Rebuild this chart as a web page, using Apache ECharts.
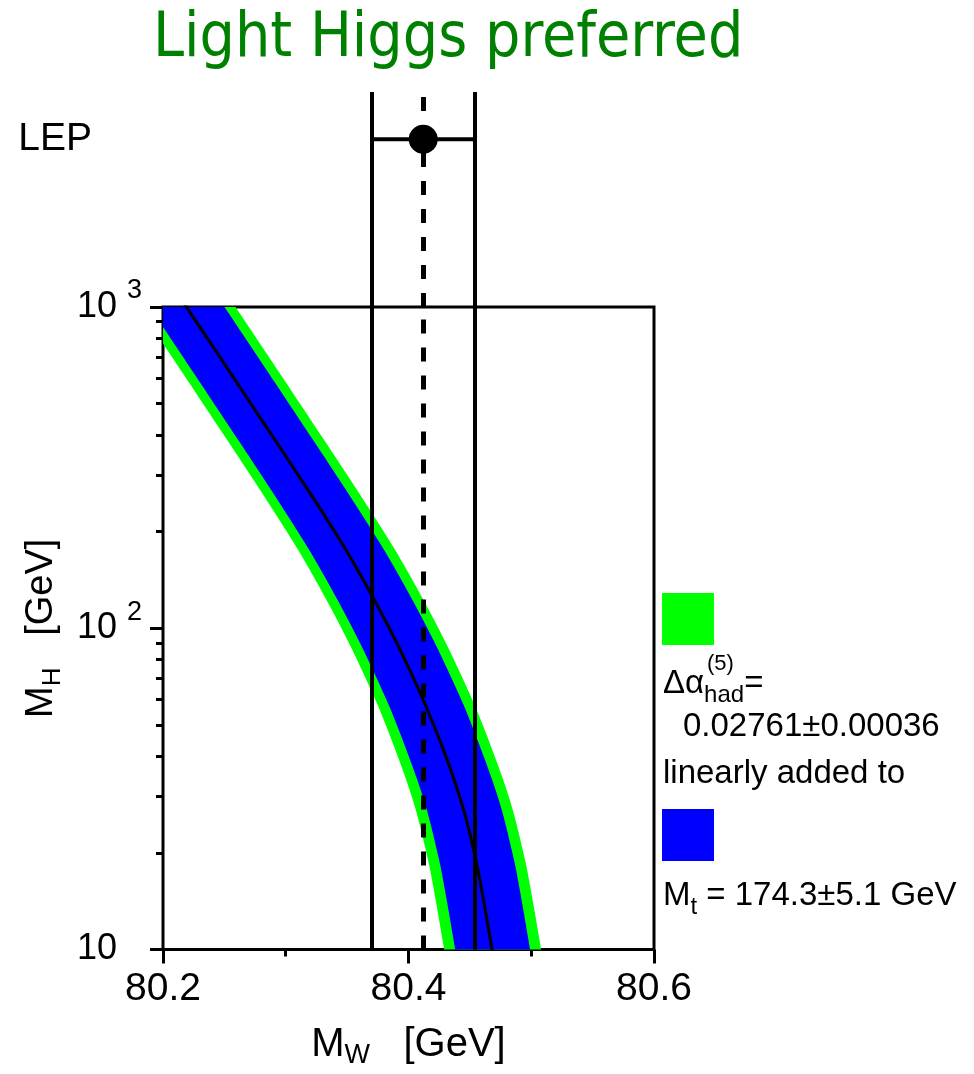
<!DOCTYPE html>
<html>
<head>
<meta charset="utf-8">
<script src="https://cdn.jsdelivr.net/npm/echarts@6/dist/echarts.min.js"></script>
<style>
  html, body { margin: 0; padding: 0; background: #fff; }
  #chart { width: 974px; height: 1074px; }
</style>
</head>
<body>
<div id="chart"></div>
<script>
// Higgs mass samples (GeV) along the band; first and last lie just outside the axis and get clipped
const mhSamples = [8, 10, 15, 20, 30, 50, 70, 100, 150, 200, 300, 500, 700, 1000, 1300];
// SM prediction for M_W (GeV) at each M_H
const mwCenter  = [80.4721, 80.4680, 80.4601, 80.4536, 80.4416, 80.4205, 80.4040, 80.3844, 80.3594, 80.3398, 80.3101, 80.2716, 80.2462, 80.2191, 80.1993];
// blue band: M_t uncertainty
const blueLow   = [80.4421, 80.4380, 80.4301, 80.4236, 80.4116, 80.3905, 80.3740, 80.3544, 80.3294, 80.3098, 80.2801, 80.2416, 80.2162, 80.1891, 80.1693];
const blueHigh  = [80.5031, 80.4990, 80.4911, 80.4846, 80.4726, 80.4515, 80.4350, 80.4154, 80.3904, 80.3708, 80.3411, 80.3026, 80.2772, 80.2501, 80.2303];
// green band: delta alpha linearly added
const greenLow  = [80.4331, 80.4290, 80.4211, 80.4146, 80.4026, 80.3815, 80.3650, 80.3454, 80.3204, 80.3008, 80.2711, 80.2326, 80.2072, 80.1801, 80.1603];
const greenHigh = [80.5121, 80.5080, 80.5001, 80.4936, 80.4816, 80.4605, 80.4440, 80.4244, 80.3994, 80.3798, 80.3501, 80.3116, 80.2862, 80.2591, 80.2393];

// LEP measurement of M_W
const lepMW = 80.412;
const lepLow = 80.370;
const lepHigh = 80.454;
const lepRow = 0.78;

// minor log ticks on the M_H axis
const yMinorTicks = [20, 30, 40, 50, 60, 70, 80, 90, 200, 300, 400, 500, 600, 700, 800, 900];

const FONT = "'Liberation Sans', Arial, sans-serif";
const chart = echarts.init(document.getElementById('chart'), null, { renderer: 'canvas' });

// catmull-rom through the projected edge points, so the band edges are smooth
function smoothPts(pts, steps) {
  const out = [];
  for (let i = 0; i < pts.length - 1; i++) {
    const p0 = pts[i - 1] || pts[i], p1 = pts[i], p2 = pts[i + 1], p3 = pts[i + 2] || pts[i + 1];
    for (let s = 0; s < steps; s++) {
      const t = s / steps, t2 = t * t, t3 = t2 * t;
      const f = k => 0.5 * ((2 * p1[k]) + (-p0[k] + p2[k]) * t +
        (2 * p0[k] - 5 * p1[k] + 4 * p2[k] - p3[k]) * t2 + (-p0[k] + 3 * p1[k] - 3 * p2[k] + p3[k]) * t3);
      out.push([f(0), f(1)]);
    }
  }
  out.push(pts[pts.length - 1]);
  return out;
}

function bandItem(low, high, color) {
  return function (params, api) {
    const lo = mhSamples.map((mh, i) => api.coord([low[i], mh]));
    const hi = mhSamples.map((mh, i) => api.coord([high[i], mh])).reverse();
    const pts = smoothPts(lo, 12).concat(smoothPts(hi, 12));
    return { type: 'polygon', shape: { points: pts }, style: { fill: color } };
  };
}

const vLines = [
  { xAxis: lepLow },
  { xAxis: lepHigh },
  { xAxis: lepMW, lineStyle: { type: [14, 14], width: 5 } }
];
const markLineBase = {
  silent: true,
  precision: 4,
  symbol: ['none', 'none'],
  label: { show: false },
  lineStyle: { color: '#000', width: 4, type: 'solid' },
  data: vLines
};

const option = {
  animation: false,
  title: {
    text: 'Light Higgs preferred',
    left: 148,
    top: 4,
    textStyle: { color: '#008000', fontSize: 62, fontWeight: 'normal', fontFamily: "'DejaVu Sans Condensed', 'DejaVu Sans', sans-serif" }
  },
  legend: [
    { data: ['dalpha'], left: 662, top: 593, padding: 0, icon: 'rect', itemWidth: 52, itemHeight: 52, formatter: () => '', selectedMode: false },
    { data: ['mtop'], left: 662, top: 809, padding: 0, icon: 'rect', itemWidth: 52, itemHeight: 52, formatter: () => '', selectedMode: false }
  ],
  grid: [
    { left: 163, top: 307, width: 491, height: 646, show: true, borderColor: '#000', borderWidth: 3, backgroundColor: 'transparent' },
    { left: 163, top: 92, width: 491, height: 215, show: false }
  ],
  xAxis: [
    {
      gridIndex: 0, type: 'value', position: 'bottom', min: 80.2, max: 80.6, interval: 0.2,
      name: '{m|M}{s|W}{m|   [GeV]}', nameLocation: 'middle', nameGap: 73,
      nameTextStyle: { rich: {
        m: { fontSize: 40, fontFamily: FONT, color: '#000', lineHeight: 44 },
        s: { fontSize: 27, fontFamily: FONT, color: '#000', lineHeight: 27, padding: [22, 0, 0, 0] }
      } },
      axisLine: { show: false },
      axisTick: { show: true, inside: false, length: 14, lineStyle: { color: '#000', width: 3 } },
      axisLabel: { fontSize: 39, fontFamily: FONT, color: '#000', margin: 20, formatter: v => v.toFixed(1) },
      splitLine: { show: false }
    },
    {
      gridIndex: 0, type: 'value', position: 'bottom', min: 80.2, max: 80.6, interval: 0.1,
      axisLine: { show: false },
      axisTick: { show: true, length: 7, lineStyle: { color: '#000', width: 3 } },
      axisLabel: { show: false },
      splitLine: { show: false }
    },
    { gridIndex: 1, type: 'value', min: 80.2, max: 80.6, show: false }
  ],
  yAxis: [
    {
      gridIndex: 0, type: 'log', logBase: 10, min: 10, max: 1000, position: 'left',
      name: '{m|M}{s|H}{m|   [GeV]}', nameLocation: 'middle', nameGap: 100, nameRotate: 90,
      nameTextStyle: { rich: {
        m: { fontSize: 38, fontFamily: FONT, color: '#000', lineHeight: 42 },
        s: { fontSize: 26, fontFamily: FONT, color: '#000', lineHeight: 26, padding: [22, 0, 0, 0] }
      } },
      axisLine: { show: false },
      axisTick: { show: true, length: 13, lineStyle: { color: '#000', width: 3 } },
      axisLabel: {
        align: 'left', margin: 86,
        formatter: v => {
          const p = Math.round(Math.log10(v));
          return p === 1 ? '{b|10}' : '{b|10}{s|' + p + '}';
        },
        rich: {
          b: { fontSize: 36, fontFamily: FONT, color: '#000', lineHeight: 36 },
          s: { fontSize: 27, fontFamily: FONT, color: '#000', lineHeight: 27, padding: [0, 0, 32, 10] }
        }
      },
      splitLine: { show: false }
    },
    {
      gridIndex: 0, type: 'log', logBase: 10, min: 10, max: 1000, position: 'left',
      axisLine: { show: false },
      axisTick: { show: true, length: 7, customValues: yMinorTicks, lineStyle: { color: '#000', width: 3 } },
      axisLabel: { show: false },
      splitLine: { show: false }
    },
    {
      gridIndex: 1, type: 'value', min: 0, max: 1, position: 'left',
      axisLine: { show: false }, axisTick: { show: false }, splitLine: { show: false },
      axisLabel: { customValues: [lepRow], formatter: () => 'LEP', margin: 71, fontSize: 39, fontFamily: FONT, color: '#000' }
    }
  ],
  series: [
    {
      name: 'dalpha', type: 'custom', xAxisIndex: 0, yAxisIndex: 0, clip: true,
      itemStyle: { color: '#00ff00' }, color: '#00ff00',
      renderItem: bandItem(greenLow, greenHigh, '#00ff00'),
      data: [[80.4, 100]], silent: true
    },
    {
      name: 'mtop', type: 'custom', xAxisIndex: 0, yAxisIndex: 0, clip: true,
      itemStyle: { color: '#0000ff' }, color: '#0000ff',
      renderItem: bandItem(blueLow, blueHigh, '#0000ff'),
      data: [[80.4, 100]], silent: true
    },
    {
      name: 'sm', type: 'line', xAxisIndex: 0, yAxisIndex: 0,
      data: mhSamples.map((mh, i) => [mwCenter[i], mh]),
      smooth: 0.5, symbol: 'none', lineStyle: { color: '#000', width: 3 },
      markLine: markLineBase, silent: true
    },
    {
      name: 'lepbar', type: 'line', xAxisIndex: 2, yAxisIndex: 2,
      data: [[lepLow, lepRow], [lepHigh, lepRow]],
      symbol: 'none', lineStyle: { color: '#000', width: 4 },
      markLine: markLineBase, silent: true
    },
    {
      name: 'lep', type: 'scatter', xAxisIndex: 2, yAxisIndex: 2,
      data: [[lepMW, lepRow]], symbol: 'circle', symbolSize: 29,
      itemStyle: { color: '#000', opacity: 1 }, silent: true, z: 5
    }
  ],
  graphic: [
    {
      type: 'text', left: 663, top: 661,
      style: {
        text: '{m|Δα}{s|had}{m|=}',
        rich: {
          m: { fontSize: 33, fontFamily: FONT, fill: '#000', lineHeight: 34 },
          s: { fontSize: 24, fontFamily: FONT, fill: '#000', lineHeight: 24, padding: [22, 0, 0, 0] }
        }
      }
    },
    { type: 'text', left: 707, top: 653, style: { text: '(5)', font: '22px ' + FONT, fill: '#000' } },
    { type: 'text', left: 683, top: 710, style: { text: '0.02761±0.00036', font: '33px ' + FONT, fill: '#000' } },
    { type: 'text', left: 663, top: 757, style: { text: 'linearly added to', font: '33px ' + FONT, fill: '#000' } },
    {
      type: 'text', left: 663, top: 873,
      style: {
        text: '{m|M}{s|t}{m| = 174.3±5.1 GeV}',
        rich: {
          m: { fontSize: 33, fontFamily: FONT, fill: '#000', lineHeight: 34 },
          s: { fontSize: 24, fontFamily: FONT, fill: '#000', lineHeight: 24, padding: [22, 0, 0, 0] }
        }
      }
    }
  ]
};

chart.setOption(option);
</script>
</body>
</html>
